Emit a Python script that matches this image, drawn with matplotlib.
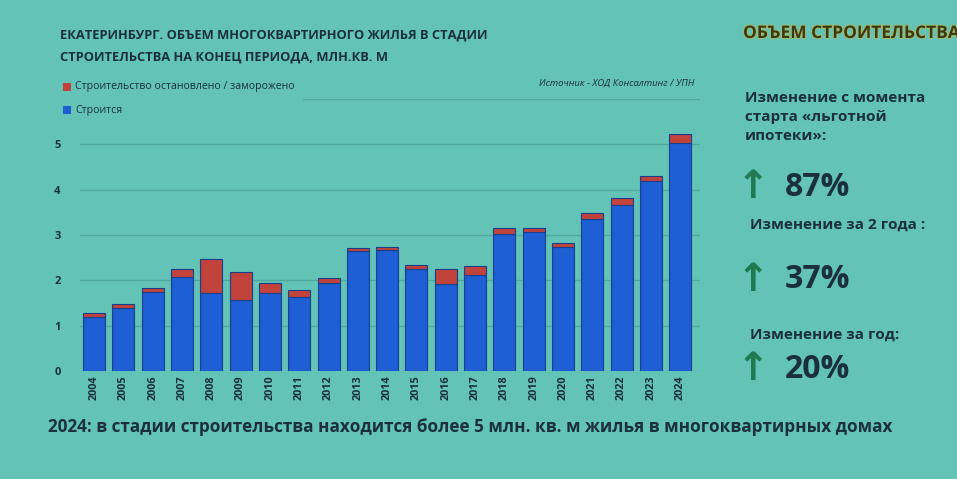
import numpy as np
import matplotlib.pyplot as plt
import matplotlib.patheffects as pe

# Данные (млн кв. м, на конец периода)
years = ['2004', '2005', '2006', '2007', '2008', '2009', '2010', '2011', '2012', '2013', '2014',
         '2015', '2016', '2017', '2018', '2019', '2020', '2021', '2022', '2023', '2024']
stroitsya = [1.18, 1.39, 1.74, 2.07, 1.73, 1.56, 1.73, 1.64, 1.95, 2.65, 2.66,
             2.26, 1.91, 2.12, 3.01, 3.07, 2.73, 3.36, 3.66, 4.18, 5.02]
zamorozheno = [0.09, 0.09, 0.09, 0.18, 0.73, 0.62, 0.22, 0.15, 0.11, 0.07, 0.07,
               0.07, 0.35, 0.20, 0.14, 0.08, 0.09, 0.12, 0.15, 0.12, 0.20]
yticks = [0, 1, 2, 3, 4, 5]

bg = '#63c3b7'
txt = '#1b2f3f'
bleu = '#1f5fd6'
rouge = '#c2433b'
vert = '#1f7a50'

plt.rcParams['font.family'] = ['Open Sans', 'DejaVu Sans']

fig = plt.figure(figsize=(9.57, 4.79), dpi=100, facecolor=bg)
ax = fig.add_axes([0.0836, 0.2255, 0.648, 0.568])
ax.set_facecolor(bg)

x = np.arange(len(years))
# léger halo clair autour des barres, comme sur la photo
halo = [pe.withStroke(linewidth=2.2, foreground='#9fe0d8'), pe.Normal()]
b1 = ax.bar(x, stroitsya, width=0.75, color=bleu, edgecolor='#173f8c', linewidth=0.8, zorder=3)
b2 = ax.bar(x, zamorozheno, bottom=stroitsya, width=0.75, color=rouge, edgecolor='#173f8c',
            linewidth=0.8, zorder=3)

ax.set_ylim(0, 6)
ax.set_xlim(-0.48, 20.68)
ax.set_yticks([0, 1, 2, 3, 4, 5, 6])
ax.set_yticklabels([str(v) for v in yticks] + [''])
ax.yaxis.grid(True, color='#4fa99e', linewidth=1.0, zorder=0)
for s in ax.spines.values():
    s.set_visible(False)
ax.tick_params(axis='y', length=0, pad=14, labelsize=8, labelcolor=txt)
ax.tick_params(axis='x', length=0, pad=3, labelsize=7.8, labelcolor=txt)
ax.set_xticks(x)
ax.set_xticklabels(years, rotation=90, fontweight='bold')
for lab in ax.get_yticklabels():
    lab.set_fontweight('bold')

# Заголовок
fig.text(60 / 957, 1 - 35 / 479, 'ЕКАТЕРИНБУРГ. ОБЪЕМ МНОГОКВАРТИРНОГО ЖИЛЬЯ В СТАДИИ',
         fontsize=9.3, fontweight='bold', color=txt, va='center')
fig.text(60 / 957, 1 - 57 / 479, 'СТРОИТЕЛЬСТВА НА КОНЕЦ ПЕРИОДА, МЛН.КВ. М',
         fontsize=9.3, fontweight='bold', color=txt, va='center')

# Легенда (непрозрачный фон закрывает линию сетки)
fig.patches.append(plt.Rectangle((60 / 957, 1 - 120 / 479), 243 / 957, 45 / 479,
                                 transform=fig.transFigure, facecolor=bg, edgecolor='none', zorder=5))
fig.patches.append(plt.Rectangle((63 / 957, 1 - 91 / 479), 8 / 957, 8 / 479,
                                 transform=fig.transFigure, facecolor=rouge, edgecolor='none', zorder=6))
fig.patches.append(plt.Rectangle((63 / 957, 1 - 114 / 479), 8 / 957, 8 / 479,
                                 transform=fig.transFigure, facecolor=bleu, edgecolor='none', zorder=6))
fig.text(75 / 957, 1 - 87 / 479, 'Строительство остановлено / заморожено',
         fontsize=7.6, color=txt, va='center', zorder=7)
fig.text(75 / 957, 1 - 110 / 479, 'Строится', fontsize=7.6, color=txt, va='center', zorder=7)
fig.text(694 / 957, 1 - 83 / 479, 'Источник - ХОД Консалтинг / УПН',
         fontsize=6.8, color=txt, va='center', ha='right', fontstyle='italic')

# Правая панель (заголовок обрезан краем слайда, как на фото)
fig.text(743 / 957, 1 - 33 / 479, 'ОБЪЕМ СТРОИТЕЛЬСТВА', fontsize=12.5, fontweight='bold',
         color='#3a3a12', va='center',
         path_effects=[pe.withStroke(linewidth=1.3, foreground='#a9bb6a')])
fig.text(745 / 957, 1 - 117 / 479, 'Изменение с момента\nстарта «льготной\nипотеки»:',
         fontsize=11, fontweight='bold', color=txt, va='center', linespacing=1.45)
fig.text(750 / 957, 1 - 225 / 479, 'Изменение за 2 года :', fontsize=11, fontweight='bold',
         color=txt, va='center')
fig.text(750 / 957, 1 - 335 / 479, 'Изменение за год:', fontsize=11, fontweight='bold',
         color=txt, va='center')
for yy, val in [(187, '87%'), (280, '37%'), (369, '20%')]:
    fig.text(753 / 957, 1 - yy / 479, '↑', fontsize=28, fontweight='bold', color=vert,
             va='center', ha='center', family=['DejaVu Sans'])
    fig.text(785 / 957, 1 - yy / 479, val, fontsize=23, fontweight='bold', color=txt, va='center')

# Подпись внизу
fig.text(48 / 957, 1 - 427 / 479,
         '2024: в стадии строительства находится более 5 млн. кв. м жилья в многоквартирных домах',
         fontsize=12.3, fontweight='bold', color=txt, va='center')

fig.savefig('out.png', dpi=100, facecolor=bg)
